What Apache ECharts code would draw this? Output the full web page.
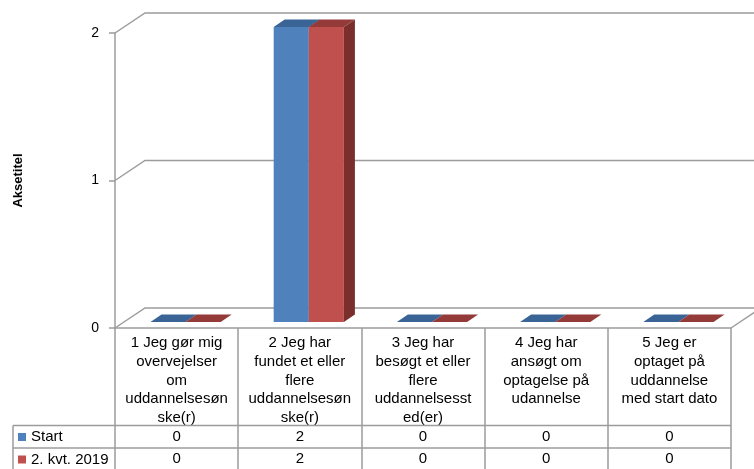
<!DOCTYPE html>
<html>
<head>
<meta charset="utf-8">
<script src="https://cdn.jsdelivr.net/npm/echarts@6/dist/echarts.min.js"></script>
<style>
html,body{margin:0;padding:0;background:#ffffff;}
#c{width:754px;height:469px;}
</style>
</head>
<body>
<div id="c"></div>
<script>
// ---- data ----
const categories = [
  '1 Jeg gør mig overvejelser om uddannelsesønske(r)',
  '2 Jeg har fundet et eller flere uddannelsesønske(r)',
  '3 Jeg har besøgt et eller flere uddannelsessted(er)',
  '4 Jeg har ansøgt om optagelse på udannelse',
  '5 Jeg er optaget på uddannelse med start dato'
];
const seriesNames = ['Start', '2. kvt. 2019'];
const startValues = [0, 2, 0, 0, 0];
const kvtValues = [0, 2, 0, 0, 0];
const yTicks = [0, 1, 2];
const yAxisTitle = 'Aksetitel';

// ---- style ----
const FONT = '"Liberation Sans", Arial, sans-serif';
const LABEL_FONT_SIZE = 15;
const LABEL_WRAP_WIDTH = 105;
const GRAY = '#9c9c9c';
const LW = 1.5;
const WALL_DX = 30, WALL_DY = -20;     // depth of the 3D box
const FRONT_DX = 9, FRONT_DY = -6;     // bar front plane offset
const BAR_DX = 11, BAR_DY = -7.5;      // bar depth
const COLORS = [
  { front: '#4F81BD', top: '#3A6496', side: '#2E4F78' },
  { front: '#C0504D', top: '#943B39', side: '#7B2F2D' }
];

// Excel-like wrapping: break at spaces, split a word only when it is wider than a line
const measureCtx = document.createElement('canvas').getContext('2d');
measureCtx.font = LABEL_FONT_SIZE + 'px ' + FONT;
function wrapLabel(text) {
  const maxW = LABEL_WRAP_WIDTH;
  const mw = function (s) { return measureCtx.measureText(s).width; };
  const lines = [];
  let cur = '';
  text.split(' ').forEach(function (w) {
    const cand = cur ? cur + ' ' + w : w;
    if (mw(cand) <= maxW) { cur = cand; return; }
    if (cur) { lines.push(cur); cur = ''; }
    while (mw(w) > maxW) {
      let n = w.length;
      while (n > 1 && mw(w.slice(0, n)) > maxW) n--;
      lines.push(w.slice(0, n));
      w = w.slice(n);
    }
    cur = w;
  });
  if (cur) lines.push(cur);
  return lines.join('\n');
}

function barRenderer(k) {
  const c = COLORS[k];
  return function (params, api) {
    const i = api.value(0), v = api.value(1);
    const base = api.coord([i, 0]);
    const top = api.coord([i, v]);
    const band = api.size([1, 0])[0];
    const bw = band * 0.285;
    const x0 = base[0] + FRONT_DX - bw + k * bw;
    const yb = base[1] + FRONT_DY, yt = top[1] + FRONT_DY;
    const children = [];
    if (yb - yt > 0.5) {
      children.push({ type: 'polygon', shape: { points: [[x0 + bw, yt], [x0 + bw + BAR_DX, yt + BAR_DY], [x0 + bw + BAR_DX, yb + BAR_DY], [x0 + bw, yb]] }, style: { fill: c.side } });
      children.push({ type: 'rect', shape: { x: x0, y: yt, width: bw, height: yb - yt }, style: { fill: c.front } });
    }
    children.push({ type: 'polygon', shape: { points: [[x0, yt], [x0 + bw, yt], [x0 + bw + BAR_DX, yt + BAR_DY], [x0 + BAR_DX, yt + BAR_DY]] }, style: { fill: c.top } });
    return { type: 'group', children: children };
  };
}

function wallRenderer(params, api) {
  const cs = params.coordSys;
  const v = api.value(1);
  const y = api.coord([0, v])[1];
  const children = [{
    type: 'polyline',
    shape: { points: [[cs.x, y], [cs.x + WALL_DX, y + WALL_DY], [cs.x + cs.width + 80, y + WALL_DY]] },
    style: { stroke: GRAY, lineWidth: LW, fill: 'none' }
  }];
  if (v === 0) {
    children.push({ type: 'line', shape: { x1: cs.x + cs.width, y1: y, x2: cs.x + cs.width + WALL_DX, y2: y + WALL_DY }, style: { stroke: GRAY, lineWidth: LW } });
  }
  return { type: 'group', children: children };
}

const chart = echarts.init(document.getElementById('c'), null, { renderer: 'canvas' });
const option = {
  animation: false,
  backgroundColor: '#ffffff',
  textStyle: { fontFamily: FONT },
  grid: { left: 115, top: 33, width: 616, height: 295, outerBoundsMode: 'none', containLabel: false },
  legend: {
    orient: 'vertical', left: 18, top: 429,
    data: seriesNames,
    icon: 'rect', itemWidth: 8, itemHeight: 8, itemGap: 6.5,
    padding: 0,
    textStyle: { fontSize: 15, color: '#000', fontFamily: FONT, lineHeight: 16 },
    selectedMode: false
  },
  xAxis: {
    type: 'category',
    data: categories,
    boundaryGap: true,
    axisLine: { show: true, lineStyle: { color: GRAY, width: LW } },
    axisTick: { show: true, inside: false, length: 141, alignWithLabel: false, interval: 0, lineStyle: { color: GRAY, width: LW } },
    axisLabel: {
      interval: 0, margin: 6,
      formatter: function (val) { return wrapLabel(val); },
      fontSize: LABEL_FONT_SIZE, lineHeight: 18.6, color: '#000', fontFamily: FONT, align: 'center'
    },
    splitLine: { show: false }
  },
  yAxis: {
    type: 'value', min: 0, max: 2, interval: 1,
    name: yAxisTitle, nameLocation: 'middle', nameGap: 90, nameRotate: 90,
    nameTextStyle: { fontSize: 13, fontWeight: 'bold', color: '#000', fontFamily: FONT },
    axisLine: { show: true, lineStyle: { color: GRAY, width: LW } },
    axisTick: { show: true, length: 6, lineStyle: { color: GRAY, width: LW } },
    axisLabel: { margin: 16, fontSize: 14, color: '#000', fontFamily: FONT },
    splitLine: { show: false }
  },
  series: [
    {
      type: 'custom', name: 'walls', silent: true, clip: false, z: 1,
      renderItem: wallRenderer,
      data: yTicks.map(function (t) { return [0, t]; })
    },
    {
      type: 'custom', name: seriesNames[0], clip: false, z: 3,
      itemStyle: { color: COLORS[0].front },
      renderItem: barRenderer(0),
      data: startValues.map(function (v, i) { return [i, v]; })
    },
    {
      type: 'custom', name: seriesNames[1], clip: false, z: 4,
      itemStyle: { color: COLORS[1].front },
      renderItem: barRenderer(1),
      data: kvtValues.map(function (v, i) { return [i, v]; })
    }
  ]
};
chart.setOption(option);

// ---- data table (values + row borders) ----
const rows = [startValues, kvtValues];
const rowLines = [425.5, 448];
const rowCenters = [436.8, 459.2];
const gridRight = 115 + 616;
const graphics = [];
rowLines.forEach(function (y) {
  graphics.push({ type: 'line', shape: { x1: 13, y1: y, x2: gridRight, y2: y }, style: { stroke: GRAY, lineWidth: LW }, z: 5 });
});
graphics.push({ type: 'line', shape: { x1: 13, y1: rowLines[0], x2: 13, y2: 475 }, style: { stroke: GRAY, lineWidth: LW }, z: 5 });
rows.forEach(function (vals, r) {
  vals.forEach(function (v, i) {
    const x = chart.convertToPixel({ xAxisIndex: 0 }, i);
    graphics.push({
      type: 'text', x: x, y: rowCenters[r], z: 6,
      style: { text: String(v), fill: '#000', font: '15px ' + FONT, align: 'center', verticalAlign: 'middle', textAlign: 'center', textVerticalAlign: 'middle' }
    });
  });
});
chart.setOption({ graphic: graphics });
</script>
</body>
</html>
